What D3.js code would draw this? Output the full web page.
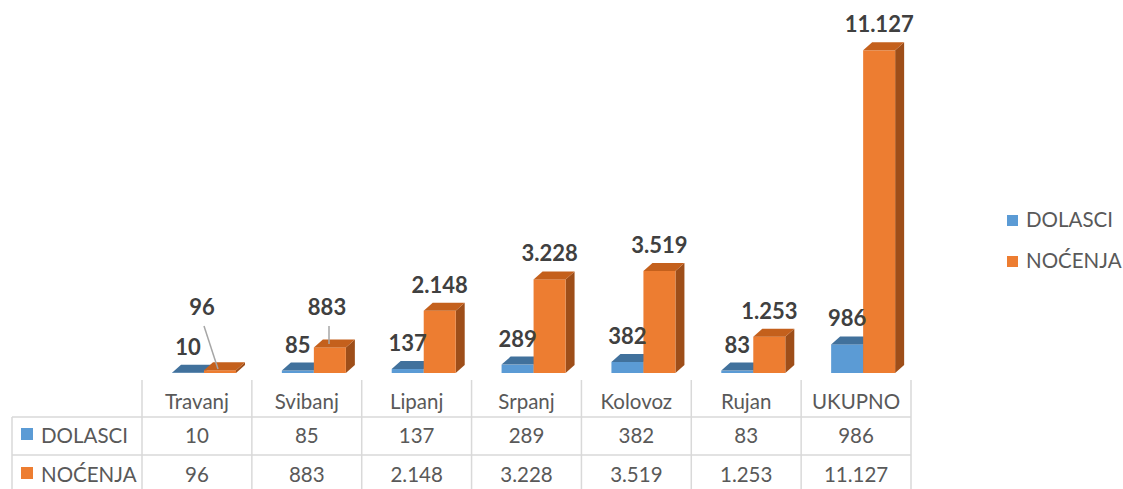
<!DOCTYPE html>
<html lang="hr">
<head>
    <meta charset="UTF-8">
    <title>Dolasci i noćenja</title>
    <script src="https://cdn.jsdelivr.net/npm/d3@7"></script>
    <style>
        body { margin: 0; background: #fff; }
        svg text { font-family: Lato, "Open Sans", sans-serif; }
    </style>
</head>
<body>
<div id="chart"></div>
<script>
    // data
    const months = ['Travanj', 'Svibanj', 'Lipanj', 'Srpanj', 'Kolovoz', 'Rujan', 'UKUPNO'];
    const series = ['DOLASCI', 'NOĆENJA'];
    const dolasci = [10, 85, 137, 289, 382, 83, 986];
    const nocenja = [96, 883, 2148, 3228, 3519, 1253, 11127];

    const W = 1123, H = 489;
    const colors = {
        DOLASCI: {front: '#5b9bd5', top: '#41719c', side: '#3a6a94'},
        'NOĆENJA': {front: '#ed7d31', top: '#c4601c', side: '#9e4e19'}
    };
    const depth = {dx: 9, dy: 8};

    const hr = d3.formatLocale({decimal: ',', thousands: '.', grouping: [3], currency: ['', '']});
    const fmt = hr.format(',d');

    const rows = months.map((m, i) => ({month: m, DOLASCI: dolasci[i], 'NOĆENJA': nocenja[i]}));

    const svg = d3.select('#chart').append('svg')
        .attr('width', W).attr('height', H);

    const x = d3.scaleBand().domain(months).range([142, 911]);
    const xs = d3.scaleBand().domain(series).range([30, 94]);
    const y = d3.scaleLinear().domain([0, 12000]).range([373, 25]);

    // bars, blue first so the orange one covers its side face
    const bars = svg.append('g');
    series.forEach(s => {
        const g = bars.selectAll('g.s-' + s).data(rows).join('g');
        g.each(function (d) {
            const x0 = x(d.month) + xs(s), w = xs.bandwidth(), y0 = y(d[s]), b = y(0);
            const sel = d3.select(this);
            const c = colors[s];
            sel.append('polygon')
                .attr('points', [[x0 + w, y0], [x0 + w + depth.dx, y0 - depth.dy], [x0 + w + depth.dx, b - depth.dy], [x0 + w, b]].join(' '))
                .attr('fill', c.side);
            sel.append('rect')
                .attr('x', x0).attr('y', y0).attr('width', w).attr('height', b - y0)
                .attr('fill', c.front);
            sel.append('polygon')
                .attr('points', [[x0, y0], [x0 + depth.dx, y0 - depth.dy], [x0 + w + depth.dx, y0 - depth.dy], [x0 + w, y0]].join(' '))
                .attr('fill', c.top);
        });
    });

    // data labels; two small ones are pulled up with leader lines
    const moved = {
        'NOĆENJA|Travanj': {x: 202, y: 315, lx1: 204, ly1: 326, lx2: 218, ly2: 369},
        'NOĆENJA|Svibanj': {x: 327, y: 315, lx1: 329, ly1: 326, lx2: 329, ly2: 344}
    };
    const labels = svg.append('g')
        .attr('font-weight', 'bold').attr('font-size', '22px').attr('fill', '#404040')
        .attr('text-anchor', 'middle');
    series.forEach(s => {
        rows.forEach(d => {
            const m = moved[s + '|' + d.month];
            let lx = x(d.month) + xs(s) + xs.bandwidth() / 2, ly = y(d[s]) - 18;
            if (m) {
                lx = m.x; ly = m.y;
                labels.append('line')
                    .attr('x1', m.lx1).attr('y1', m.ly1).attr('x2', m.lx2).attr('y2', m.ly2)
                    .attr('stroke', '#a6a6a6').attr('stroke-width', 1.5);
            }
            labels.append('text').attr('x', lx).attr('y', ly).text(fmt(d[s]));
        });
    });

    // data table under the chart
    const grid = '#d9d9d9';
    const tbl = svg.append('g').attr('stroke', grid).attr('stroke-width', 1.5);
    const rowY = [380, 417, 455, 493];
    x.domain().forEach(m => {
        tbl.append('line').attr('x1', x(m)).attr('x2', x(m)).attr('y1', rowY[0]).attr('y2', rowY[3]);
    });
    tbl.append('line').attr('x1', 911).attr('x2', 911).attr('y1', rowY[0]).attr('y2', rowY[3]);
    tbl.append('line').attr('x1', 12).attr('x2', 12).attr('y1', rowY[1]).attr('y2', rowY[3]);
    [rowY[1], rowY[2], rowY[3]].forEach(yy => {
        tbl.append('line').attr('x1', 12).attr('x2', 911).attr('y1', yy).attr('y2', yy);
    });

    const txt = svg.append('g').attr('font-size', '20.5px').attr('fill', '#595959');
    txt.selectAll('text.head').data(months).join('text')
        .attr('class', 'head')
        .attr('x', d => x(d) + x.bandwidth() / 2).attr('y', 409)
        .attr('text-anchor', 'middle').text(d => d);
    [dolasci, nocenja].forEach((vals, r) => {
        const by = [443, 482][r];
        txt.selectAll('text.r' + r).data(vals).join('text')
            .attr('class', 'r' + r)
            .attr('x', (d, i) => x(months[i]) + x.bandwidth() / 2).attr('y', by)
            .attr('text-anchor', 'middle').text(d => fmt(d));
        txt.append('rect').attr('x', 21).attr('y', by - 15).attr('width', 12).attr('height', 12)
            .attr('fill', colors[series[r]].front);
        txt.append('text').attr('x', 41).attr('y', by).text(series[r]);
    });

    // legend on the right
    const legend = svg.append('g').attr('font-size', '20.5px').attr('fill', '#595959');
    series.forEach((s, i) => {
        const ly = 227 + i * 41;
        legend.append('rect').attr('x', 1007).attr('y', ly - 12).attr('width', 11).attr('height', 11)
            .attr('fill', colors[s].front);
        legend.append('text').attr('x', 1026).attr('y', ly).text(s);
    });
</script>
</body>
</html>
